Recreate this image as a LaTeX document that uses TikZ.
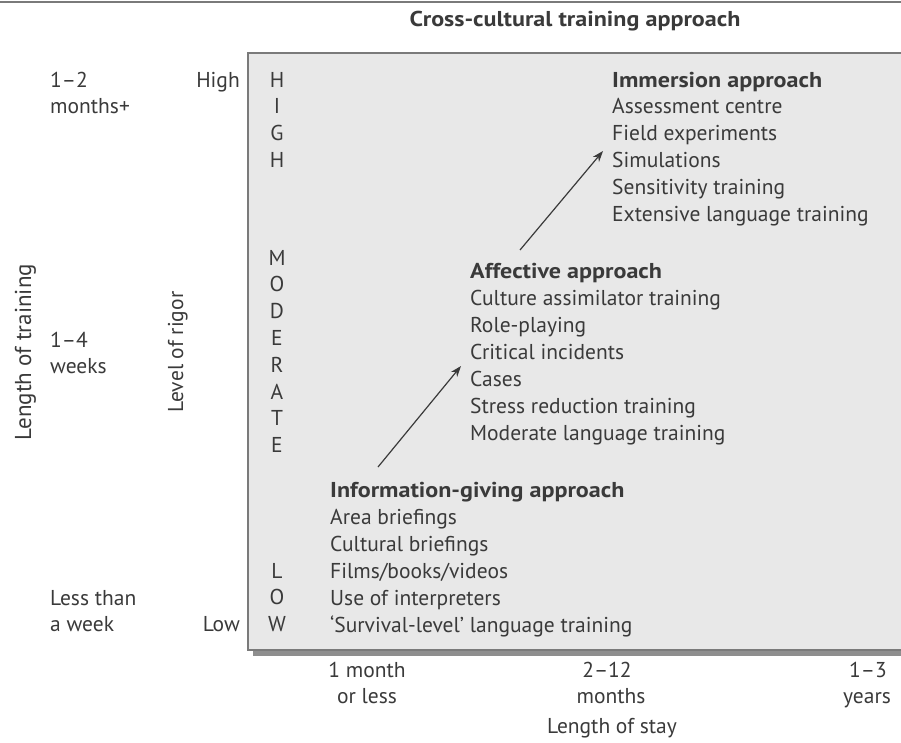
\documentclass[tikz,border=0pt]{standalone}
\usepackage{fontspec}
\setmainfont{PT Sans}[BoldFeatures={FakeStretch=1.12}]
\usetikzlibrary{arrows.meta}
\definecolor{txt}{HTML}{3A3A3A}
\definecolor{boxfill}{HTML}{E8E8E8}
\definecolor{boxline}{HTML}{7A7A7A}
\definecolor{shadowc}{HTML}{8E8E8E}
\tikzset{
  lbl/.style={anchor=base west, inner sep=0pt, text=txt, font=\fontsize{21.5}{27}\selectfont},
  lblr/.style={lbl, anchor=base east},
  lblc/.style={lbl, anchor=base},
  head/.style={lbl, font=\fontsize{21.5}{27}\selectfont\bfseries},
  letter/.style={lbl, anchor=base},
  arr/.style={draw=txt, line width=1.2pt, -{Stealth[length=11pt,width=8pt]}},
}
\begin{document}
\begin{tikzpicture}[x=1pt,y=-1pt]
\useasboundingbox (0,0) rectangle (901,742);
% top rule
\draw[boxline, line width=2.5pt] (0,2) -- (901,2);
% box with shadow
\fill[shadowc] (253,58) rectangle (915,656);
\filldraw[fill=boxfill, draw=boxline, line width=1.5pt] (248,53) rectangle (910,650);
% title
\node[head, anchor=base] (title) at (575,26) {Cross-cultural training approach};
% left labels
\node[lbl] (m12a) at (50,87) {1–2};
\node[lbl] (m12b) at (50,113) {months+};
\node[lbl] (w14a) at (50,347) {1–4};
\node[lbl] (w14b) at (50,373) {weeks};
\node[lbl] (lwa) at (50,605) {Less than};
\node[lbl] (lwb) at (50,631) {a week};
\node[lblr] (high) at (240,87) {High};
\node[lblr] (low) at (240,631) {Low};
\node[lbl, rotate=90, anchor=base, font=\fontsize{23}{27}\selectfont] (lot) at (31,352) {Length of training};
\node[lbl, rotate=90, anchor=base] (lor) at (183,352) {Level of rigor};
% vertical letters
\foreach \c [count=\i from 0] in {H,I,G,H}
  \node[letter] (hl\i) at (277,87+26.8*\i) {\c};
\foreach \c [count=\i from 0] in {M,O,D,E,R,A,T,E}
  \node[letter] (ml\i) at (277,265+26.8*\i) {\c};
\foreach \c [count=\i from 0] in {L,O,W}
  \node[letter] (ll\i) at (277,578+26.8*\i) {\c};
% immersion
\node[head] (imm) at (612,87) {Immersion approach};
\foreach \t [count=\i] in {Assessment centre,Field experiments,Simulations,Sensitivity training,Extensive language training}
  \node[lbl] (imm\i) at (612,87+26.8*\i) {\t};
% affective
\node[head] (aff) at (470,278) {Affective approach};
\foreach \t [count=\i] in {Culture assimilator training,Role-playing,Critical incidents,Cases,Stress reduction training,Moderate language training}
  \node[lbl] (aff\i) at (470,278+27*\i) {\t};
% information
\node[head] (inf) at (330,497) {Information-giving approach};
\foreach \t [count=\i] in {Area briefings,Cultural briefings,Films/books/videos,Use of interpreters,`Survival-level' language training}
  \node[lbl] (inf\i) at (330,497+27*\i) {\t};
% arrows
\coordinate (a1s) at (378,467);
\coordinate (a1e) at (461,366);
\coordinate (a2s) at (520,250);
\coordinate (a2e) at (603,151);
\draw[arr] (a1s) -- (a1e);
\draw[arr] (a2s) -- (a2e);
% bottom labels
\node[lblc] (b1a) at (367,677) {1 month};
\node[lblc] (b1b) at (367,703) {or less};
\node[lblc] (b2a) at (607,677) {2–12};
\node[lblc] (b2b) at (611,703) {months};
\node[lblc] (b3a) at (868,677) {1–3};
\node[lblc] (b3b) at (867,703) {years};
\node[lblc] (los) at (612,733) {Length of stay};
\end{tikzpicture}
\end{document}
